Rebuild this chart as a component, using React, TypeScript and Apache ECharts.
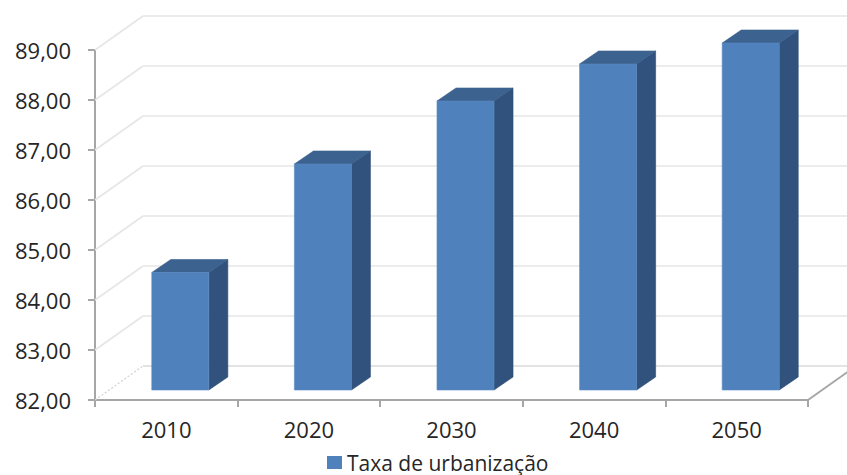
import React, { useEffect, useRef } from "react";
import * as echarts from "echarts";

const years = ["2010", "2020", "2030", "2040", "2050"];
const taxaUrbanizacao = [84.35, 86.52, 87.78, 88.52, 88.94];
const gridValues = [82, 83, 84, 85, 86, 87, 88, 89];
const seriesName = "Taxa de urbanização";

const Y_MIN = 82;
const Y_MAX = 89;

// perspective: how far the back wall sits from the front plane
const WALL_DX = 48;
const WALL_DY = -34;
// bar placement within the depth and bar thickness
const BAR_DX = 14;
const BAR_DY = -10;
const BAR_DEPTH_DX = 19;
const BAR_DEPTH_DY = -13;

const FONT = "'Open Sans', sans-serif";
const TEXT_COLOR = "#262626";

export default function App() {
  const ref = useRef<HTMLDivElement>(null);

  useEffect(() => {
    document.body.style.margin = "0";
    const chart = echarts.init(ref.current!, null, { renderer: "svg" });

    chart.setOption({
      animation: false,
      backgroundColor: "#ffffff",
      grid: { left: 95, right: 39, top: 50, bottom: 75 },
      legend: {
        left: 327,
        top: 452,
        padding: 0,
        icon: "rect",
        itemWidth: 15,
        itemHeight: 13,
        itemGap: 6,
        data: [{ name: seriesName, itemStyle: { color: "#4F81BD" } }],
        textStyle: { fontFamily: FONT, fontSize: 21, lineHeight: 20, color: TEXT_COLOR },
      },
      xAxis: {
        type: "category",
        data: years,
        boundaryGap: true,
        axisLine: { lineStyle: { color: "#A6A6A6", width: 2 } },
        axisTick: { show: true, length: 7, lineStyle: { color: "#A6A6A6", width: 2 } },
        axisLabel: { fontFamily: FONT, fontSize: 22, color: TEXT_COLOR, margin: 18 },
        splitLine: { show: false },
      },
      yAxis: {
        type: "value",
        min: Y_MIN,
        max: Y_MAX,
        interval: 1,
        axisLine: { show: true, lineStyle: { color: "#A6A6A6", width: 2 } },
        axisTick: { show: true, length: 7, lineStyle: { color: "#A6A6A6", width: 2 } },
        axisLabel: {
          fontFamily: FONT,
          fontSize: 22,
          color: TEXT_COLOR,
          margin: 24,
          formatter: (v: number) => v.toFixed(2).replace(".", ","),
        },
        splitLine: { show: false },
      },
      series: [
        {
          // side wall, back wall and floor lines
          type: "custom",
          name: "walls",
          silent: true,
          clip: false,
          z: 1,
          data: gridValues.map((v) => [0, v]),
          renderItem: (params: any, api: any) => {
            const cs = params.coordSys;
            const v = api.value(1);
            const y = api.coord([0, v])[1];
            const xl = cs.x;
            const xr = cs.x + cs.width;
            const isFloor = v === Y_MIN;
            const children: any[] = [
              {
                type: "line",
                shape: { x1: xl, y1: y, x2: xl + WALL_DX, y2: y + WALL_DY },
                style: {
                  stroke: isFloor ? "#D0D0D0" : "#E6E6E6",
                  lineWidth: isFloor ? 1.2 : 1.6,
                  lineDash: isFloor ? [2, 2] : null,
                },
              },
              {
                type: "line",
                shape: { x1: xl + WALL_DX, y1: y + WALL_DY, x2: xr + WALL_DX, y2: y + WALL_DY },
                style: { stroke: isFloor ? "#DADADA" : "#E6E6E6", lineWidth: 1.6 },
              },
            ];
            if (isFloor) {
              children.push({
                type: "line",
                shape: { x1: xr, y1: y, x2: xr + WALL_DX, y2: y + WALL_DY },
                style: { stroke: "#A6A6A6", lineWidth: 2 },
              });
            }
            return { type: "group", children };
          },
        },
        {
          type: "custom",
          name: seriesName,
          clip: false,
          z: 3,
          itemStyle: { color: "#4F81BD" },
          data: taxaUrbanizacao.map((v, i) => [i, v]),
          renderItem: (params: any, api: any) => {
            const i = api.value(0);
            const v = api.value(1);
            const base = api.coord([i, Y_MIN]);
            const top = api.coord([i, v]);
            const band = api.size([1, 0])[0];
            const w = band * 0.4;
            const x0 = base[0] - w / 2 + BAR_DX;
            const x1 = x0 + w;
            const yb = base[1] + BAR_DY;
            const yt = top[1] + BAR_DY;
            return {
              type: "group",
              children: [
                {
                  type: "polygon",
                  shape: {
                    points: [
                      [x1, yt],
                      [x1 + BAR_DEPTH_DX, yt + BAR_DEPTH_DY],
                      [x1 + BAR_DEPTH_DX, yb + BAR_DEPTH_DY],
                      [x1, yb],
                    ],
                  },
                  style: { fill: "#30527C", stroke: "#2C4B72", lineWidth: 0.6 },
                },
                {
                  type: "polygon",
                  shape: {
                    points: [
                      [x0, yt],
                      [x0 + BAR_DEPTH_DX, yt + BAR_DEPTH_DY],
                      [x1 + BAR_DEPTH_DX, yt + BAR_DEPTH_DY],
                      [x1, yt],
                    ],
                  },
                  style: { fill: "#3C6390", stroke: "#3A5F8B", lineWidth: 0.6 },
                },
                {
                  type: "rect",
                  shape: { x: x0, y: yt, width: w, height: yb - yt },
                  style: { fill: "#4F81BD", stroke: "#5B8CC6", lineWidth: 0.6 },
                },
              ],
            };
          },
        },
      ],
    });

    return () => chart.dispose();
  }, []);

  return <div ref={ref} style={{ width: 847, height: 475 }} />;
}
